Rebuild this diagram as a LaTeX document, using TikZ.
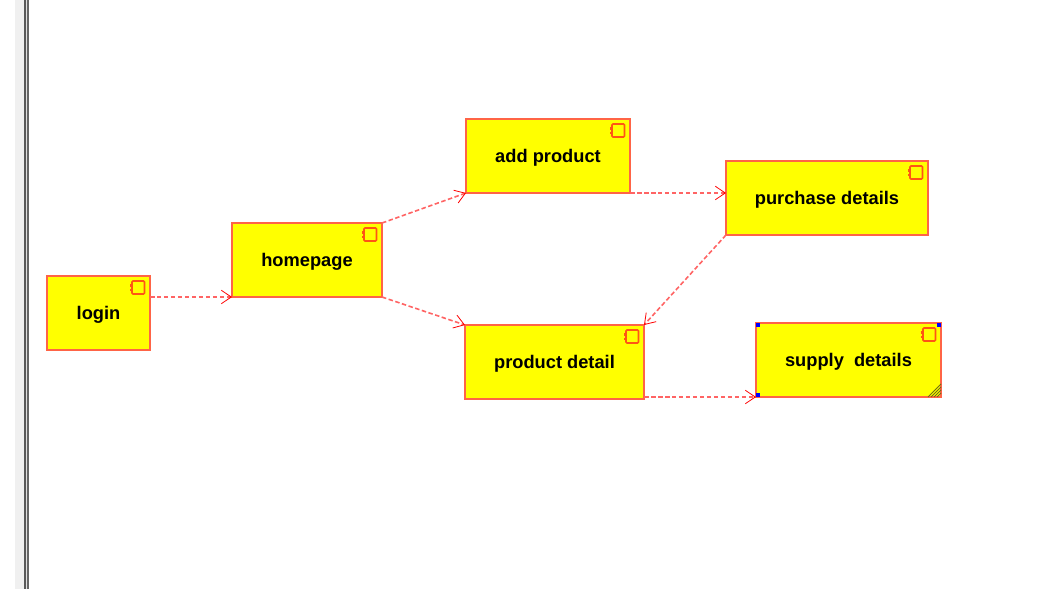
\documentclass[tikz,border=0pt]{standalone}
\usepackage{fontspec}
\setmainfont{Liberation Sans}
\usepackage{xcolor}
\usetikzlibrary{arrows.meta, positioning, calc}

\definecolor{boxline}{RGB}{255,100,70}
\definecolor{boxfill}{RGB}{255,255,0}
\definecolor{iconline}{RGB}{255,85,20}
\definecolor{hatchline}{RGB}{110,110,20}
\definecolor{depline}{RGB}{255,100,100}
\tikzset{
    compbox/.style={draw=boxline, line width=0.024cm, fill=boxfill, inner sep=0pt, outer sep=0pt, font=\fontsize{10.4}{12}\selectfont\bfseries},
    deparrow/.style={draw=depline, line width=0.032cm, dash pattern=on 0.09cm off 0.05cm, -{Straight Barb[red, length=0.2cm, width=0.27cm, line width=0.016cm]}},
    compicon/.style={draw=iconline, line width=0.034cm, rounded corners=0.02cm},
    handle/.style={fill=blue, minimum size=0.08cm, inner sep=0pt}
}

\begin{document}
\begin{tikzpicture}[x=0.02cm, y=-0.02cm]
            \useasboundingbox (0,0) rectangle (1062,589);
            % window edge
            \fill[gray!12] (15,0) rectangle (24,589);
            \fill[gray!70!black] (24,0) rectangle (26,589);
            \fill[gray!25] (26,0) rectangle (27,589);
            \fill[gray!80!black] (27,0) rectangle (29,589);
            % components
            \foreach \cx/\cy/\w/\name/\txt in {98.5/313/103/login/login,307/260/150/homepage/homepage,548/156/164/addproduct/add product,827/198/202/purchase/purchase details,554.5/362/179/productdetail/product detail,848.5/360/185/supply/supply\ \ details} {
                \node[compbox, minimum width=\w*0.02cm, minimum height=1.48cm, text height=0.32cm, text depth=0.056cm] (\name) at (\cx,\cy) {\txt};
                \draw[compicon] ($(\name.north east)+(-18,5)$) rectangle ($(\name.north east)+(-5.5,18)$);
                \fill[iconline] ($(\name.north east)+(-20,8)$) rectangle ($(\name.north east)+(-17,10.5)$);
                \fill[iconline] ($(\name.north east)+(-20,12.5)$) rectangle ($(\name.north east)+(-17,15)$);
            }
            % dependencies
            \draw[deparrow] (login.east |- homepage.south west) -- (homepage.south west);
            \draw[deparrow] (homepage.north east) -- (addproduct.south west);
            \draw[deparrow] (homepage.south east) -- (productdetail.north west);
            \draw[deparrow] (addproduct.south east) -- (purchase.west |- addproduct.south east);
            \draw[deparrow] (purchase.south west) -- (productdetail.north east);
            \draw[deparrow] (productdetail.east |- supply.south west) -- (supply.south west);
            % selected one
            \node[handle] (nw) at ($(supply.north west)+(2,2)$) {};
            \node[handle] (ne) at ($(supply.north east)+(-2,2)$) {};
            \node[handle] (sw) at ($(supply.south west)+(2,-2)$) {};
            \foreach \d in {4,7,10,13} {
                \draw[hatchline, line width=0.02cm] ($(supply.south east)+(-\d,0)$) -- ($(supply.south east)+(0,-\d)$);
            }
        \end{tikzpicture}
\end{document}
